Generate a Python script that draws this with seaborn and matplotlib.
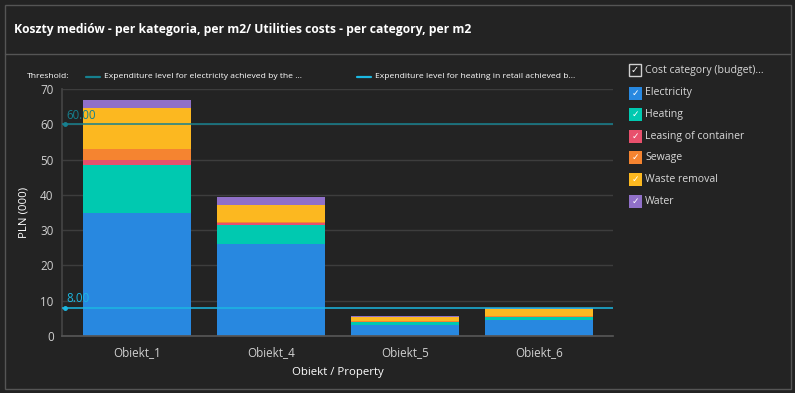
import numpy as np
import pandas as pd
import matplotlib
matplotlib.use("Agg")
import matplotlib.pyplot as plt
from matplotlib.patches import Rectangle
import seaborn as sns

# ---------------- data ----------------
properties = ["Obiekt_1", "Obiekt_4", "Obiekt_5", "Obiekt_6"]
categories = ["Electricity", "Heating", "Leasing of container", "Sewage", "Waste removal", "Water"]
electricity = [34.8, 26.1, 3.0, 4.5]
heating = [13.6, 5.4, 1.0, 0.85]
leasing = [1.5, 0.4, 0.05, 0.1]
sewage = [3.2, 0.3, 0.1, 0.2]
waste_removal = [11.5, 4.8, 1.1, 1.9]
water = [2.3, 2.5, 0.35, 0.3]
series = [electricity, heating, leasing, sewage, waste_removal, water]
colors = ["#2888e0", "#00c9b0", "#e8506c", "#f58430", "#fcb820", "#9070c8"]

thresholds = [60.0, 8.0]
threshold_labels = ["Expenditure level for electricity achieved by the ...",
                    "Expenditure level for heating in retail achieved b..."]
threshold_colors = ["#16808f", "#1bb8e2"]

y_ticks = [0, 10, 20, 30, 40, 50, 60, 70]

title = "Koszty mediów - per kategoria, per m2/ Utilities costs - per category, per m2"

# ---------------- style ----------------
sns.set_theme(style="dark")
plt.rcParams["font.family"] = ["Open Sans", "DejaVu Sans"]
BG = "#232323"
TXT = "#d8d8d8"

W, H = 795, 393
fig = plt.figure(figsize=(W / 100, H / 100), dpi=100, facecolor=BG)

# pixel-coordinate overlay for decorations
deco = fig.add_axes([0, 0, 1, 1], zorder=0)
deco.set_xlim(0, W)
deco.set_ylim(H, 0)
deco.axis("off")
deco.patch.set_alpha(0)
deco.add_patch(Rectangle((4.5, 4.5), W - 9, H - 9, fill=False, edgecolor="#555555", lw=1))
deco.plot([5, W - 5], [53.5, 53.5], color="#555555", lw=1)
deco.text(14, 29, title, color="white", fontsize=8.7, fontweight="bold", va="center", ha="left")

# threshold legend
fs_thr = 6.1
deco.text(27, 77, "Threshold:", color="white", fontsize=fs_thr, va="center", ha="left")
deco.plot([86, 100], [77, 77], color=threshold_colors[0], lw=1.6)
deco.text(104, 77, threshold_labels[0], color="white", fontsize=fs_thr, va="center", ha="left")
deco.plot([357, 371], [77, 77], color=threshold_colors[1], lw=1.6)
deco.text(375, 77, threshold_labels[1], color="white", fontsize=fs_thr, va="center", ha="left")

# right legend
ly = 70
deco.add_patch(Rectangle((629, ly - 6), 12, 12, fill=False, edgecolor="#d0d0d0", lw=1))
deco.text(635, ly, "✓", color="white", fontsize=7, ha="center", va="center", family="DejaVu Sans")
deco.text(645, ly, "Cost category (budget)...", color=TXT, fontsize=7.6, ha="left", va="center")
for i, (cat, col) in enumerate(zip(categories, colors)):
    yy = 93 + i * 21.6
    deco.add_patch(Rectangle((629, yy - 6.5), 13, 13, facecolor=col, edgecolor="none"))
    deco.text(635.5, yy, "✓", color="white", fontsize=6.5, ha="center", va="center", family="DejaVu Sans")
    deco.text(645, yy, cat, color=TXT, fontsize=7.6, ha="left", va="center")

# ---------------- main chart ----------------
ax = fig.add_axes([62 / W, (H - 336) / H, (613 - 62) / W, (336 - 89) / H], zorder=1)
ax.set_facecolor("none")

df = pd.DataFrame({"property": properties})
bottom = np.zeros(len(properties))
for cat, vals, col in zip(categories, series, colors):
    df[cat] = vals
    sns.barplot(data=df, x="property", y=cat, bottom=bottom, color=col, width=0.806,
                saturation=1, linewidth=0, ax=ax, zorder=2)
    bottom = bottom + np.array(vals)

ax.set_xlim(-0.563, 3.549)
ax.set_ylim(0, 70)
ax.set_yticks(y_ticks)
ax.set_yticklabels([str(t) for t in y_ticks])
ax.tick_params(axis="both", colors="#d0d0d0", labelsize=8.4, length=0, pad=6)
ax.tick_params(axis="x", pad=7)
ax.grid(axis="y", color="#3d3d3d", lw=1, zorder=0)
ax.grid(axis="x", visible=False)
for s in ["top", "right"]:
    ax.spines[s].set_visible(False)
ax.spines["left"].set_color("#444444")
ax.spines["bottom"].set_color("#555555")
ax.set_xlabel("Obiekt / Property", color="white", fontsize=8.2, labelpad=6)
ax.set_ylabel("PLN (000)", color="white", fontsize=8.2, labelpad=8)

for val, col in zip(thresholds, threshold_colors):
    ax.axhline(val, color=col, lw=1.1, zorder=3)
    ax.plot([-0.54], [val], marker="o", ms=2.5, color=col, zorder=4, clip_on=False)
    ax.text(-0.53, val + 0.7, f"{val:.2f}", color=col, fontsize=8.3, ha="left", va="bottom", zorder=4)

fig.savefig("out.png", dpi=100, facecolor=BG)
